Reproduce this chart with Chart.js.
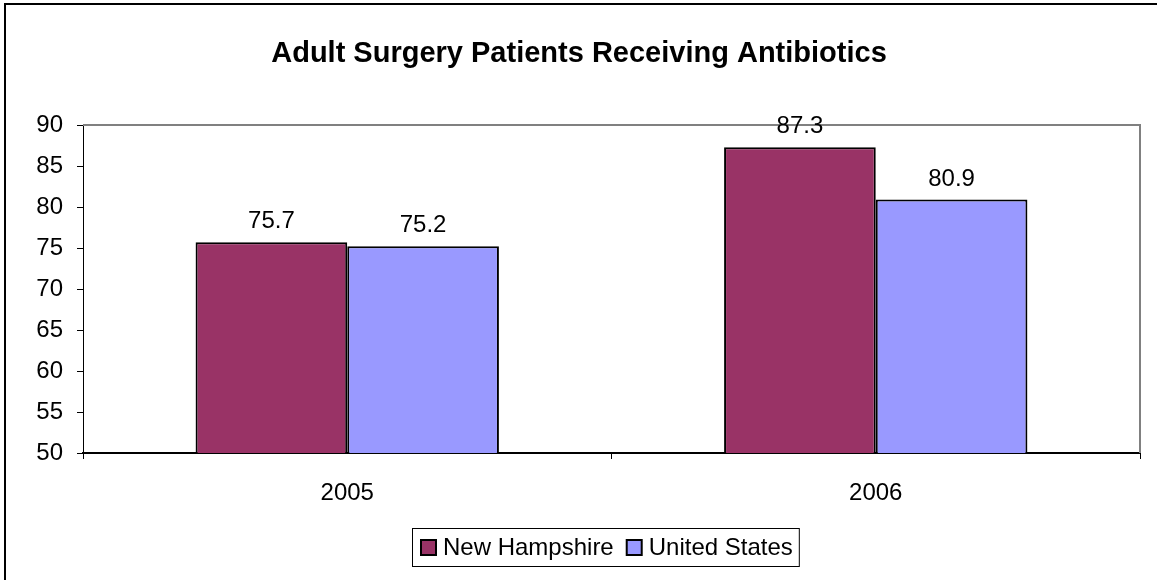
<!DOCTYPE html>
<html>
<head>
<meta charset="utf-8">
<script src="https://cdn.jsdelivr.net/npm/chart.js@4/dist/chart.umd.min.js"></script>
<style>
html,body{margin:0;padding:0;background:#fff;}
#wrap{position:relative;width:1157px;height:580px;}
</style>
</head>
<body>
<div id="wrap"><canvas id="c" width="1157" height="580"></canvas></div>
<script>
const categories = ["2005", "2006"];
const newHampshire = [75.7, 87.3];
const unitedStates = [75.2, 80.9];
const seriesNames = ["New Hampshire", "United States"];
const yTicks = [50, 55, 60, 65, 70, 75, 80, 85, 90];
const titleText = "Adult Surgery Patients Receiving Antibiotics";

const FONT = "'Liberation Sans', Arial, sans-serif";

const framePlugin = {
  id: 'frame',
  beforeDraw(chart) {
    const ctx = chart.ctx;
    ctx.save();
    ctx.fillStyle = '#fff';
    ctx.fillRect(0, 0, chart.width, chart.height);
    ctx.strokeStyle = '#000';
    ctx.lineWidth = 2;
    ctx.strokeRect(5, 4, chart.width + 10, chart.height + 10);
    ctx.fillStyle = '#000';
    ctx.font = "bold 29px " + FONT;
    ctx.textAlign = 'center';
    ctx.textBaseline = 'middle';
    ctx.fillText(titleText, 579, 54);
    ctx.restore();
  },
  beforeDatasetsDraw(chart) {
    const a = chart.chartArea;
    const ctx = chart.ctx;
    ctx.save();
    ctx.strokeStyle = '#808080';
    ctx.lineWidth = 2;
    ctx.beginPath();
    ctx.moveTo(a.left, a.top);
    ctx.lineTo(a.right, a.top);
    ctx.lineTo(a.right, a.bottom);
    ctx.stroke();
    ctx.restore();
  },
  afterDatasetsDraw(chart) {
    const ctx = chart.ctx;
    ctx.save();
    ctx.fillStyle = '#000';
    ctx.font = "24px " + FONT;
    ctx.textAlign = 'center';
    ctx.textBaseline = 'alphabetic';
    chart.data.datasets.forEach((ds, i) => {
      const meta = chart.getDatasetMeta(i);
      meta.data.forEach((bar, j) => {
        ctx.fillText(ds.data[j].toFixed(1), bar.x, bar.y - 14);
      });
    });
    // legend
    ctx.font = "24px " + FONT;
    const items = [
      {name: seriesNames[0], color: chart.data.datasets[0].backgroundColor},
      {name: seriesNames[1], color: chart.data.datasets[1].backgroundColor}
    ];
    const lx = 412, ly = 528, lh = 38;
    let w = 8;
    items.forEach((it, k) => { w += 17 + 6 + ctx.measureText(it.name).width + (k < items.length - 1 ? 12 : 6); });
    ctx.strokeStyle = '#000';
    ctx.lineWidth = 1;
    ctx.strokeRect(lx + 0.5, ly + 0.5, w, lh);
    ctx.textAlign = 'left';
    ctx.textBaseline = 'middle';
    let x = lx + 8;
    const cy = ly + lh / 2 + 1;
    items.forEach(it => {
      ctx.fillStyle = it.color;
      ctx.fillRect(x + 1, cy - 8, 15, 15);
      ctx.strokeStyle = '#000';
      ctx.lineWidth = 2;
      ctx.strokeRect(x + 1, cy - 8, 15, 15);
      ctx.fillStyle = '#000';
      ctx.fillText(it.name, x + 23, cy);
      x += 23 + ctx.measureText(it.name).width + 12;
    });
    ctx.restore();
  }
};

new Chart(document.getElementById('c'), {
  type: 'bar',
  data: {
    labels: categories,
    datasets: [
      {label: seriesNames[0], data: newHampshire, backgroundColor: '#993366', borderColor: '#000', borderWidth: 2, borderSkipped: 'bottom'},
      {label: seriesNames[1], data: unitedStates, backgroundColor: '#9999FF', borderColor: '#000', borderWidth: 2, borderSkipped: 'bottom'}
    ]
  },
  options: {
    responsive: false,
    animation: false,
    devicePixelRatio: 1,
    layout: {padding: {left: 13, right: 17, top: 125, bottom: 67}},
    plugins: {legend: {display: false}, title: {display: false}, tooltip: {enabled: false}},
    datasets: {bar: {barPercentage: 1.0, categoryPercentage: 0.574}},
    scales: {
      x: {
        afterFit(s) { s.height = 60; },
        grid: {display: true, drawOnChartArea: false, drawTicks: true, tickLength: 6, color: '#000', offset: true},
        border: {display: true, color: '#000', width: 2},
        ticks: {color: '#000', font: {family: FONT, size: 24}, padding: 20}
      },
      y: {
        min: 50, max: 90,
        afterFit(s) { s.width = 70; },
        afterBuildTicks(s) { s.ticks = yTicks.map(v => ({value: v})); },
        grid: {display: true, drawOnChartArea: false, drawTicks: true, tickLength: 6, color: '#000'},
        border: {display: true, color: '#000', width: 1},
        ticks: {color: '#000', font: {family: FONT, size: 24}, padding: 14}
      }
    }
  },
  plugins: [framePlugin]
});
</script>
</body>
</html>
